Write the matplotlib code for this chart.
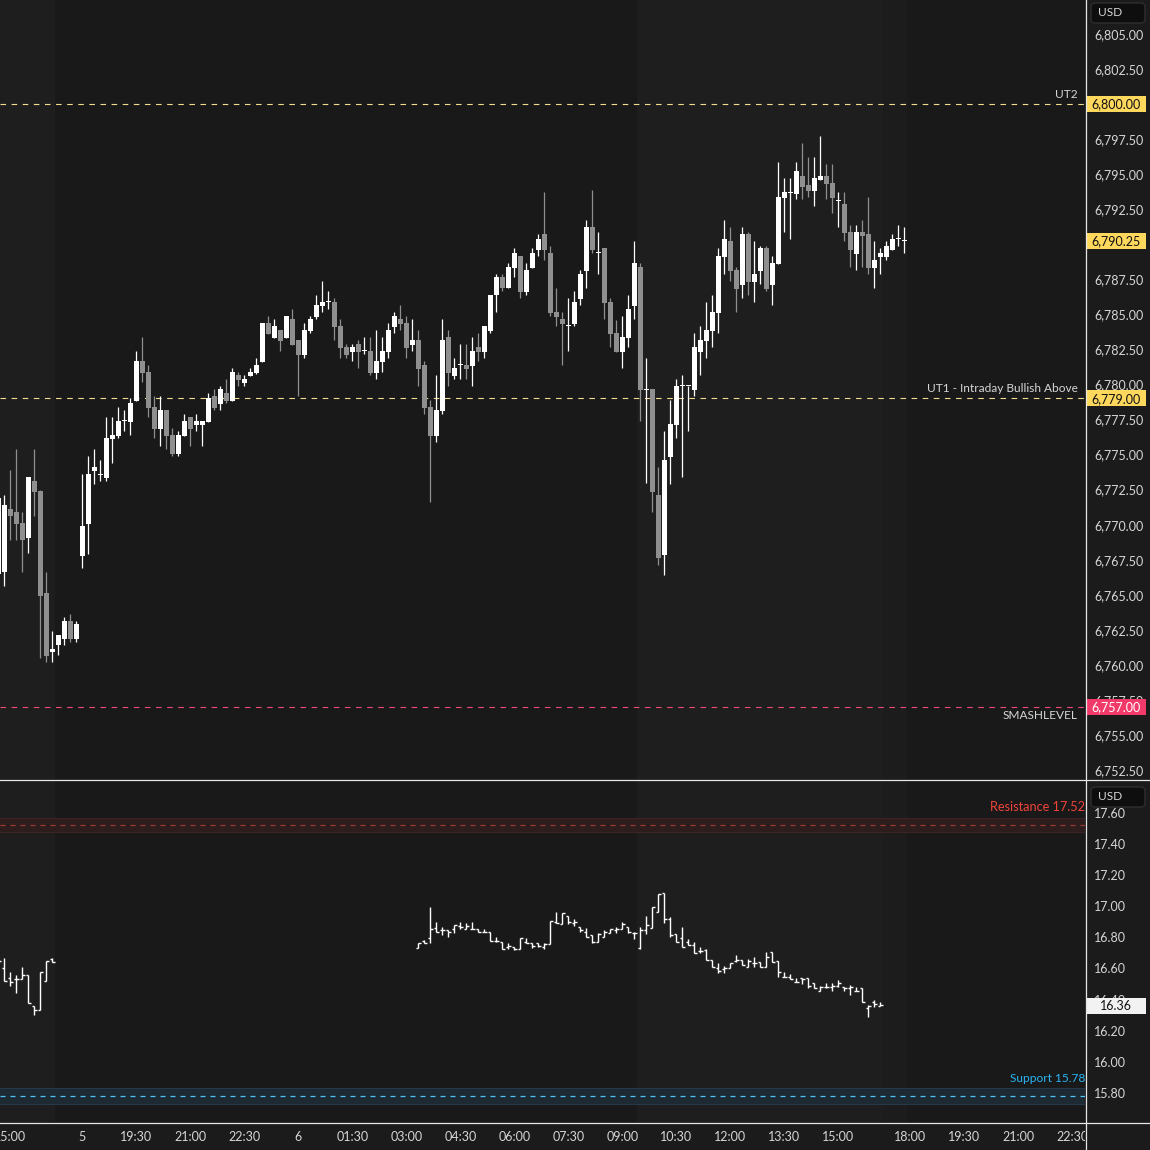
import matplotlib
matplotlib.use('Agg')
import matplotlib.pyplot as plt
from matplotlib.patches import Rectangle, FancyBboxPatch
from matplotlib.lines import Line2D
from matplotlib.transforms import IdentityTransform
import numpy as np

# ---------------- DATA ----------------
# ES 10-minute candles, bar index -1 .. 150 (index 13 = 18:00 session open of day "5")
es_open = [6766.5, 6766.6, 6771.1, 6770.9, 6770.1, 6769.05, 6773.1, 6772.4, 6765.1, 6760.9,
           6761.4, 6761.85, 6763.1, 6761.85, 6767.8, 6770.05, 6773.8, 6773.6, 6773.3, 6776.1,
           6776.3, 6777.4, 6777.3, 6778.85, 6781.7, 6780.9, 6778.4, 6776.85, 6778.2, 6776.4,
           6775.05, 6776.35, 6777.7, 6777.1, 6777.1, 6777.35, 6779.2, 6778.6, 6779.4, 6778.85,
           6780.7, 6780.1, 6780.6, 6780.85, 6781.6, 6784.4, 6783.35, 6783.9, 6783.35, 6784.7,
           6783.2, 6782.1, 6783.85, 6784.8, 6785.6, 6785.9, 6785.9, 6784.2, 6782.7, 6782.3,
           6782.9, 6782.4, 6782.4, 6780.85, 6781.6, 6782.35, 6784.1, 6784.7, 6784.4, 6782.85,
           6783.2, 6781.4, 6778.4, 6776.35, 6778.1, 6783.4, 6780.6, 6781.4, 6781.4, 6781.35,
           6782.7, 6782.35, 6783.85, 6786.35, 6787.7, 6786.85, 6788.3, 6789.2, 6786.6, 6788.3,
           6789.6, 6790.7, 6789.4, 6785.2, 6784.7, 6784.2, 6784.3, 6786.1, 6788.1, 6791.2,
           6789.4, 6789.7, 6785.9, 6783.7, 6782.35, 6783.35, 6785.6, 6788.4, 6779.65, 6779.7,
           6772.1, 6767.85, 6774.85, 6777.1, 6779.9, 6779.9, 6779.6, 6782.3, 6783.1, 6783.8,
           6785.1, 6789.1, 6790.2, 6788.2, 6787.1, 6790.7, 6787.3, 6788.1, 6789.7, 6787.1,
           6788.6, 6793.3, 6793.7, 6793.6, 6794.9, 6794.2, 6793.8, 6794.6, 6794.9, 6794.4,
           6793.1, 6792.9, 6790.9, 6789.3, 6790.9, 6790.7, 6788.3, 6789.1, 6789.1, 6789.6,
           6790.4, 6790.25]
es_high = [6772.3, 6772.1, 6773.9, 6775.4, 6770.9, 6773.4, 6775.4, 6772.5, 6766.6, 6762.4,
           6762.1, 6763.4, 6763.6, 6763.1, 6773.6, 6774.9, 6775.4, 6774.6, 6777.7, 6777.7,
           6778.4, 6778.2, 6779.0, 6782.4, 6783.4, 6781.4, 6779.2, 6779.2, 6778.2, 6776.9,
           6776.7, 6777.9, 6777.7, 6777.9, 6777.4, 6779.4, 6779.7, 6779.9, 6780.4, 6781.2,
           6780.9, 6780.7, 6781.2, 6781.9, 6784.4, 6784.9, 6784.7, 6783.9, 6784.9, 6785.4,
           6783.2, 6784.4, 6784.9, 6786.4, 6787.4, 6786.7, 6786.2, 6784.7, 6782.9, 6782.9,
           6783.2, 6783.4, 6783.4, 6783.9, 6783.4, 6784.4, 6785.2, 6785.7, 6784.9, 6784.7,
           6783.9, 6781.7, 6778.9, 6780.7, 6784.7, 6783.9, 6781.9, 6782.9, 6782.9, 6783.4,
           6783.7, 6784.2, 6786.4, 6787.9, 6787.9, 6788.7, 6789.7, 6789.2, 6788.7, 6789.7,
           6790.7, 6793.7, 6789.9, 6786.9, 6785.2, 6786.2, 6786.7, 6788.2, 6791.7, 6793.9,
           6790.9, 6789.7, 6786.2, 6784.6, 6784.9, 6786.4, 6790.2, 6788.7, 6781.9, 6779.7,
           6774.1, 6776.7, 6778.9, 6780.4, 6780.7, 6779.9, 6783.7, 6784.2, 6785.9, 6786.4,
           6789.7, 6791.7, 6791.2, 6788.4, 6791.2, 6790.9, 6790.2, 6789.9, 6789.9, 6789.2,
           6795.9, 6794.7, 6794.7, 6795.9, 6797.2, 6796.2, 6796.2, 6797.7, 6795.7, 6795.7,
           6793.7, 6793.7, 6791.4, 6791.4, 6791.7, 6793.4, 6790.2, 6789.7, 6790.2, 6790.7,
           6791.4, 6791.2]
es_low = [6766.0, 6765.6, 6768.9, 6768.9, 6766.6, 6768.0, 6770.6, 6760.5, 6760.2, 6760.2,
          6760.7, 6761.4, 6761.6, 6761.6, 6766.9, 6767.9, 6772.9, 6773.1, 6773.1, 6774.4,
          6776.2, 6776.7, 6776.4, 6778.85, 6780.2, 6777.7, 6776.2, 6775.6, 6775.4, 6774.9,
          6774.9, 6776.35, 6775.6, 6776.7, 6775.6, 6777.35, 6778.2, 6778.2, 6778.7, 6778.85,
          6779.9, 6779.9, 6780.6, 6780.75, 6781.6, 6783.6, 6783.35, 6782.4, 6783.35, 6782.85,
          6779.2, 6781.9, 6783.7, 6784.7, 6785.2, 6785.4, 6783.2, 6781.9, 6781.9, 6781.7,
          6781.2, 6782.2, 6780.7, 6780.4, 6780.9, 6781.9, 6783.7, 6783.9, 6781.9, 6782.4,
          6779.9, 6777.9, 6771.65, 6775.9, 6777.9, 6779.9, 6780.4, 6780.4, 6780.4, 6779.9,
          6781.7, 6781.9, 6783.7, 6785.2, 6786.7, 6786.85, 6787.7, 6786.2, 6786.4, 6788.3,
          6789.2, 6788.9, 6784.9, 6784.2, 6781.4, 6782.4, 6784.2, 6785.7, 6786.9, 6789.4,
          6787.9, 6784.7, 6782.7, 6782.35, 6781.2, 6782.7, 6784.7, 6777.4, 6772.95, 6770.9,
          6767.15, 6766.4, 6772.9, 6776.2, 6773.4, 6776.7, 6779.2, 6780.7, 6781.9, 6782.7,
          6783.7, 6787.9, 6787.4, 6785.2, 6786.2, 6786.4, 6785.9, 6787.2, 6786.7, 6785.7,
          6788.6, 6790.9, 6790.4, 6793.2, 6793.2, 6793.4, 6792.7, 6794.6, 6793.2, 6792.2,
          6791.2, 6790.2, 6788.4, 6788.2, 6788.4, 6787.9, 6786.9, 6787.9, 6788.9, 6789.6,
          6789.9, 6789.4]
es_close = [6771.9, 6771.4, 6770.6, 6770.05, 6768.9, 6773.4, 6772.3, 6764.9, 6760.6, 6761.1,
            6762.1, 6763.1, 6761.85, 6762.9, 6769.9, 6773.6, 6774.1, 6773.6, 6776.2, 6776.4,
            6777.4, 6777.4, 6778.7, 6781.7, 6780.85, 6778.35, 6776.85, 6778.2, 6776.35, 6775.05,
            6776.4, 6777.4, 6776.85, 6777.4, 6777.4, 6779.0, 6778.35, 6779.7, 6778.85, 6780.9,
            6780.3, 6780.4, 6780.9, 6781.4, 6784.4, 6783.6, 6784.2, 6783.1, 6784.9, 6782.85,
            6782.1, 6783.9, 6784.7, 6785.7, 6785.9, 6785.9, 6784.1, 6782.6, 6782.1, 6782.7,
            6782.3, 6782.4, 6780.85, 6781.7, 6782.4, 6783.9, 6784.9, 6784.3, 6782.6, 6783.2,
            6781.1, 6778.35, 6776.35, 6778.2, 6783.2, 6780.85, 6781.2, 6781.4, 6781.1, 6782.4,
            6782.35, 6784.2, 6786.4, 6787.7, 6786.85, 6788.4, 6789.4, 6786.6, 6788.2, 6789.4,
            6790.4, 6789.6, 6785.1, 6784.8, 6784.3, 6784.2, 6785.9, 6787.9, 6791.2, 6789.6,
            6789.4, 6785.8, 6783.6, 6782.35, 6783.4, 6785.4, 6788.7, 6779.6, 6779.65, 6772.35,
            6767.6, 6774.6, 6777.2, 6779.9, 6779.9, 6779.9, 6782.7, 6783.2, 6783.9, 6785.2,
            6789.2, 6790.4, 6788.1, 6786.8, 6790.7, 6787.3, 6787.9, 6789.7, 6786.8, 6788.7,
            6793.4, 6793.7, 6793.7, 6795.2, 6794.1, 6793.8, 6794.7, 6794.9, 6794.3, 6793.3,
            6793.1, 6790.8, 6789.6, 6790.9, 6790.6, 6788.3, 6788.9, 6789.4, 6789.9, 6790.4,
            6790.4, 6790.25]

# VIX 10-minute OHLC bars (two segments of bar indices)
vix_idx = list(range(-1, 9)) + list(range(69, 147))
vix_open = [16.66, 16.60, 16.54, 16.53, 16.53, 16.56, 16.36, 16.33, 16.52, 16.66,
            16.734, 16.777, 16.794, 16.858, 16.848, 16.848, 16.852, 16.876, 16.854, 16.854,
            16.854, 16.833, 16.833, 16.779, 16.768, 16.741, 16.741, 16.726, 16.768, 16.762,
            16.762, 16.741, 16.756, 16.897, 16.884, 16.940, 16.891, 16.869, 16.833, 16.816,
            16.768, 16.805, 16.826, 16.848, 16.852, 16.869, 16.826, 16.734, 16.848, 16.858,
            16.961, 17.083, 16.916, 16.822, 16.794, 16.768, 16.751, 16.713, 16.719, 16.655,
            16.601, 16.595, 16.601, 16.651, 16.655, 16.608, 16.638, 16.644, 16.608, 16.704,
            16.651, 16.543, 16.543, 16.511, 16.537, 16.537, 16.509, 16.458, 16.479, 16.479,
            16.488, 16.479, 16.473, 16.456, 16.473, 16.348, 16.383, 16.361]
vix_high = [16.68, 16.665, 16.58, 16.56, 16.61, 16.56, 16.36, 16.575, 16.65, 16.67,
            16.766, 16.783, 16.998, 16.897, 16.869, 16.848, 16.880, 16.897, 16.890, 16.897,
            16.854, 16.854, 16.833, 16.805, 16.768, 16.762, 16.741, 16.794, 16.794, 16.762,
            16.762, 16.762, 16.906, 16.961, 16.955, 16.940, 16.918, 16.869, 16.858, 16.816,
            16.826, 16.848, 16.854, 16.869, 16.897, 16.869, 16.833, 16.869, 16.938, 16.993,
            17.079, 17.083, 16.933, 16.822, 16.865, 16.790, 16.773, 16.741, 16.723, 16.655,
            16.633, 16.616, 16.633, 16.687, 16.655, 16.661, 16.672, 16.644, 16.708, 16.708,
            16.651, 16.580, 16.563, 16.537, 16.537, 16.537, 16.509, 16.488, 16.505, 16.505,
            16.526, 16.479, 16.494, 16.483, 16.473, 16.366, 16.398, 16.387]
vix_low = [16.62, 16.52, 16.49, 16.44, 16.53, 16.38, 16.30, 16.33, 16.52, 16.64,
           16.730, 16.762, 16.766, 16.833, 16.816, 16.801, 16.831, 16.854, 16.854, 16.854,
           16.833, 16.833, 16.779, 16.768, 16.726, 16.726, 16.719, 16.726, 16.762, 16.730,
           16.741, 16.726, 16.756, 16.891, 16.884, 16.884, 16.876, 16.837, 16.805, 16.762,
           16.768, 16.805, 16.826, 16.826, 16.852, 16.826, 16.790, 16.726, 16.820, 16.858,
           16.961, 16.891, 16.801, 16.768, 16.741, 16.751, 16.702, 16.698, 16.655, 16.608,
           16.569, 16.569, 16.601, 16.644, 16.623, 16.608, 16.608, 16.608, 16.608, 16.644,
           16.543, 16.543, 16.531, 16.511, 16.498, 16.473, 16.473, 16.458, 16.473, 16.456,
           16.479, 16.458, 16.430, 16.456, 16.383, 16.291, 16.355, 16.361]
vix_close = [16.648, 16.52, 16.51, 16.53, 16.56, 16.38, 16.33, 16.575, 16.65, 16.64,
             16.766, 16.762, 16.854, 16.833, 16.848, 16.837, 16.880, 16.869, 16.876, 16.854,
             16.833, 16.833, 16.779, 16.779, 16.726, 16.747, 16.726, 16.794, 16.762, 16.747,
             16.747, 16.756, 16.906, 16.891, 16.955, 16.897, 16.897, 16.848, 16.805, 16.768,
             16.820, 16.833, 16.854, 16.854, 16.884, 16.833, 16.826, 16.848, 16.880, 16.993,
             17.079, 16.916, 16.816, 16.768, 16.741, 16.751, 16.702, 16.713, 16.655, 16.608,
             16.586, 16.601, 16.633, 16.655, 16.623, 16.648, 16.633, 16.608, 16.672, 16.644,
             16.580, 16.543, 16.531, 16.511, 16.531, 16.488, 16.473, 16.479, 16.479, 16.488,
             16.505, 16.473, 16.479, 16.456, 16.383, 16.361, 16.372, 16.366]

# levels
es_levels = [6800.00, 6779.00, 6757.00]
es_level_names = ["UT2", "UT1 - Intraday Bullish Above", "SMASHLEVEL"]
last_price = 6790.25
vix_resistance = 17.52
vix_support = 15.78
vix_last = 16.36

# time axis labels (bar index, label)
xtick_idx = [1, 13, 22, 31, 40, 49, 58, 67, 76, 85, 94, 103, 112, 121, 130, 139, 151, 160, 169, 178]
xtick_lbl = ["15:00", "5", "19:30", "21:00", "22:30", "6", "01:30", "03:00", "04:30", "06:00",
             "07:30", "09:00", "10:30", "12:00", "13:30", "15:00", "18:00", "19:30", "21:00", "22:30"]

# session shading boundaries (bar-index units): regular hours / overnight
sessions = [(-5, 8.5, 'rth'), (8.5, 105.5, 'eth'), (105.5, 146.5, 'rth'),
            (146.5, 150.5, 'post'), (150.5, 200, 'eth')]

# ---------------- STYLE ----------------
W = H = 1150
BG = '#1b1b1b'
SESSION_COL = {'rth': '#1e1e1e', 'eth': '#191919', 'post': '#1c1c1c'}
UP = '#ffffff'
DOWN = '#8f8f8f'
TXT = '#d6d6d6'
YEL = '#fdd85d'
YEL_LINE = '#f2dc8e'
PINK = '#f23a6a'
PINK_LINE = '#f04a76'
FONT = 'Lato'

plt.rcParams['font.family'] = [FONT, 'DejaVu Sans']

fig = plt.figure(figsize=(11.5, 11.5), dpi=100, facecolor=BG)


def px_axes(x0, y0, x1, y1):
    return fig.add_axes([x0 / W, 1 - y1 / H, (x1 - x0) / W, (y1 - y0) / H])


XMIN = -4.3 / 6
XMAX = XMIN + 1085 / 6

ax1 = px_axes(0, 0, 1085, 779)
ax2 = px_axes(0, 780, 1085, 1122)
ax3 = px_axes(0, 1122, 1085, 1150)

for a in (ax1, ax2, ax3):
    a.set_facecolor(BG)
    a.set_xlim(XMIN, XMAX)
    for s in a.spines.values():
        s.set_visible(False)
    a.tick_params(axis='x', bottom=False, labelbottom=False)

ax1.set_ylim(6805 - 745 / 14.019, 6805 + 34 / 14.019)
ax2.set_ylim(17.40 - 278 / 155.6, 17.40 + 64 / 155.6)
ax3.set_ylim(0, 1)
ax3.set_yticks([])

# session bands
for a in (ax1, ax2):
    for x0, x1, kind in sessions:
        a.axvspan(x0, x1, color=SESSION_COL[kind], lw=0, zorder=0)

# ---------------- CANDLES ----------------
idx = np.arange(-1, -1 + len(es_open))
O = np.array(es_open); Hh = np.array(es_high); Ll = np.array(es_low); C = np.array(es_close)
up = C >= O
cols = np.where(up, UP, DOWN)
ax1.vlines(idx, Ll, Hh, colors=cols, lw=0.9, zorder=3)
bh = np.maximum(np.abs(C - O), 0.08)
bb = np.where(np.abs(C - O) < 0.08, (O + C) / 2 - 0.04, np.minimum(O, C))
ax1.bar(idx, bh, bottom=bb, width=0.82, color=cols, linewidth=0, zorder=4)

# ---------------- VIX OHLC ----------------
vx = np.array(vix_idx, dtype=float)
ax2.vlines(vx, vix_low, vix_high, colors='#ffffff', lw=1.0, zorder=3)
ax2.hlines(vix_open, vx - 0.38, vx, colors='#ffffff', lw=1.0, zorder=3)
ax2.hlines(vix_close, vx, vx + 0.38, colors='#ffffff', lw=1.0, zorder=3)

# ---------------- LEVELS ----------------
lvl_cols = [YEL_LINE, YEL_LINE, PINK_LINE]
lvl_off = [10, 10, -9]
for v, name, c, off in zip(es_levels, es_level_names, lvl_cols, lvl_off):
    ax1.axhline(v, color=c, lw=0.8, ls=(0, (5, 5)), zorder=2)
    ax1.annotate(name, xy=(1, v), xycoords=('axes fraction', 'data'), xytext=(-7, off),
                 textcoords='offset pixels', ha='right', va='center', color=TXT, fontsize=8.6)

# VIX zones
ax2.axhspan(vix_resistance - 0.045, vix_resistance + 0.045, color='#2e1d1d', lw=0, zorder=1)
ax2.axhline(vix_resistance - 0.045, color='#3d2424', lw=0.8, zorder=1)
ax2.axhline(vix_resistance + 0.045, color='#3d2424', lw=0.8, zorder=1)
ax2.axhline(vix_resistance, color='#9a3b36', lw=0.9, ls=(0, (4, 4)), zorder=2)
ax2.axhspan(vix_support - 0.05, vix_support + 0.05, color='#1d2a33', lw=0, zorder=1)
ax2.axhline(vix_support - 0.05, color='#26384a', lw=0.8, zorder=1)
ax2.axhline(vix_support + 0.05, color='#26384a', lw=0.8, zorder=1)
ax2.axhline(vix_support, color='#4fc3f7', lw=0.9, ls=(0, (4, 4)), zorder=2)
ax2.annotate(f"Resistance {vix_resistance:.2f}", xy=(1, vix_resistance),
             xycoords=('axes fraction', 'data'), xytext=(0, 18), textcoords='offset pixels',
             ha='right', va='center', color='#f0443a', fontsize=9.2)
ax2.annotate(f"Support {vix_support:.2f}", xy=(1, vix_support),
             xycoords=('axes fraction', 'data'), xytext=(0, 18), textcoords='offset pixels',
             ha='right', va='center', color='#29b6f6', fontsize=8.6)

# ---------------- Y AXES ----------------
# labels hidden completely by a price tag are left blank
hidden1 = {6800.0, 6790.0}
yt1 = np.arange(6752.5, 6805.01, 2.5)
ax1.yaxis.tick_right()
ax1.set_yticks(yt1)
ax1.set_yticklabels(["" if round(v, 2) in hidden1 else f"{v:,.2f}" for v in yt1])
yt2 = np.arange(15.8, 17.61, 0.2)
ax2.yaxis.tick_right()
ax2.set_yticks(yt2)
ax2.set_yticklabels([f"{v:.2f}" for v in yt2])
for a in (ax1, ax2):
    a.tick_params(axis='y', length=0, pad=6.5, labelsize=9, labelcolor=TXT)
    for t in a.get_yticklabels():
        t.set_horizontalalignment('left')

# ---------------- X LABELS ----------------
for xi, lab in zip(xtick_idx, xtick_lbl):
    ax3.text(xi, 0.46, lab, ha='center', va='center', color=TXT, fontsize=9, clip_on=True)

# ---------------- OVERLAYS (pixel coords) ----------------
ID = IdentityTransform()


def dy(ax, val):
    return ax.transData.transform((0, val))[1]


def tag(ax, val, text, fc, tc, h=16):
    y = dy(ax, val)
    fig.add_artist(Rectangle((1086, y - h / 2), 60, h, transform=ID, facecolor=fc,
                             edgecolor='none', zorder=5))
    fig.text(1116, y - 0.5, text, transform=ID, ha='center', va='center', color=tc,
             fontsize=9, zorder=6)


tag(ax1, es_levels[0], f"{es_levels[0]:,.2f}", YEL, '#111111')
tag(ax1, last_price, f"{last_price:,.2f}", YEL, '#111111')
tag(ax1, es_levels[1], f"{es_levels[1]:,.2f}", YEL, '#111111')
tag(ax1, es_levels[2], f"{es_levels[2]:,.2f}", PINK, '#ffffff')
tag(ax2, vix_last, f"{vix_last:.2f}", '#f2f2f2', '#111111')


def usd_box(ytop):
    fig.add_artist(FancyBboxPatch((1091, H - ytop - 21), 54, 20,
                                  boxstyle='round,pad=0,rounding_size=4', transform=ID,
                                  facecolor='#0e0e0e', edgecolor='#2e2e2e', lw=1, zorder=5))
    fig.text(1098, H - ytop - 11, "USD", transform=ID, ha='left', va='center', color=TXT,
             fontsize=8.6, zorder=6)


usd_box(2)
usd_box(786)

# separators
for (x0, y0, x1, y1) in [(0, 779.5, W, 779.5), (0, 1122.5, W, 1122.5), (1085.5, 0, 1085.5, H)]:
    fig.add_artist(Line2D([x0, x1], [H - y0, H - y1], transform=ID, color='#e6e6e6', lw=0.9,
                          zorder=7))

fig.savefig('out.png', dpi=100, facecolor=BG)
